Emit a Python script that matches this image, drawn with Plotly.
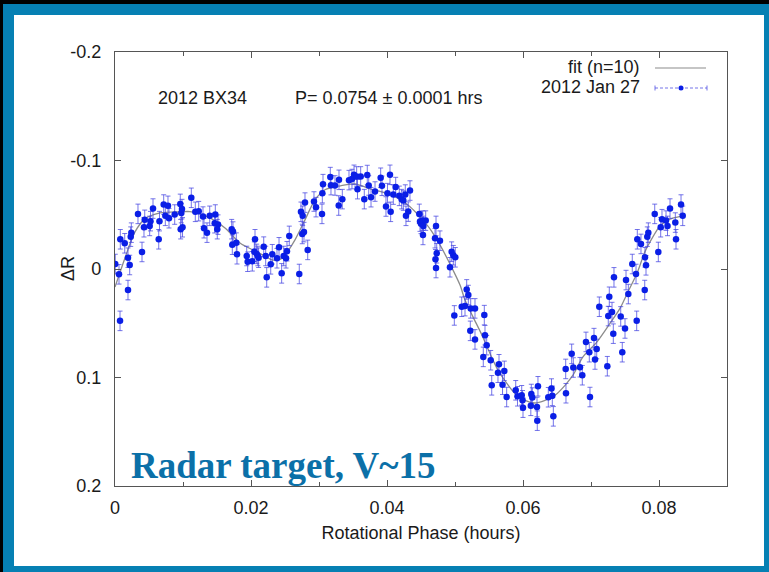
import plotly.graph_objects as go

# Rotational phase (hours) and R-band magnitude offset for 2012 BX34, 2012 Jan 27
PHASE_HRS = [
    0.00004, 0.00059, 0.00074, 0.00078, 0.00143, 0.00191, 0.00216, 0.00191, 0.00231, 0.00240,
    0.00338, 0.00397, 0.00437, 0.00426, 0.00510, 0.00522, 0.00559, 0.00643, 0.00654, 0.00716,
    0.00740, 0.00779, 0.00794, 0.00878, 0.00960, 0.00975, 0.00985, 0.00966, 0.00993, 0.01122,
    0.01181, 0.01231, 0.01294, 0.01309, 0.01353, 0.01393, 0.01475, 0.01466, 0.01515, 0.01504,
    0.01716, 0.01735, 0.01725, 0.01784, 0.01794, 0.01937, 0.01951, 0.02019, 0.02049, 0.02059,
    0.02084, 0.02100, 0.02112, 0.02187, 0.02231, 0.02216, 0.02290, 0.02313, 0.02382, 0.02412,
    0.02451, 0.02481, 0.02529, 0.02515, 0.02563, 0.02710, 0.02735, 0.02760, 0.02754, 0.02779,
    0.02794, 0.02834, 0.02926, 0.02956, 0.03049, 0.03059, 0.03044, 0.03166, 0.03176, 0.03235,
    0.03294, 0.03290, 0.03343, 0.03441, 0.03485, 0.03515, 0.03554, 0.03566, 0.03613, 0.03666,
    0.03710, 0.03731, 0.03765, 0.03824, 0.03907, 0.03926, 0.03985, 0.04007, 0.04044, 0.04054,
    0.04093, 0.04128, 0.04181, 0.04216, 0.04240, 0.04269, 0.04279, 0.04313, 0.04338, 0.04475,
    0.04485, 0.04500, 0.04525, 0.04534, 0.04569, 0.04529, 0.04721, 0.04706, 0.04779, 0.04731,
    0.04713, 0.04721, 0.04951, 0.04975, 0.05004, 0.04926, 0.05099, 0.04990, 0.05172, 0.05196,
    0.05147, 0.05231, 0.05294, 0.05431, 0.05225, 0.05294, 0.05441, 0.05466, 0.05416, 0.05525,
    0.05647, 0.05632, 0.05725, 0.05540, 0.05699, 0.05760, 0.05893, 0.05919, 0.05981, 0.05993,
    0.06000, 0.06122, 0.06137, 0.06115, 0.06220, 0.06206, 0.06210, 0.06372, 0.06419, 0.06431,
    0.06446, 0.06628, 0.06632, 0.06716, 0.06740, 0.06838, 0.06872, 0.06926, 0.06975, 0.06985,
    0.07044, 0.07059, 0.07084, 0.07122, 0.07240, 0.07254, 0.07269, 0.07309, 0.07328, 0.07338,
    0.07437, 0.07460, 0.07500, 0.07515, 0.07549, 0.07607, 0.07662, 0.07672, 0.07681, 0.07735,
    0.07790, 0.07794, 0.07809, 0.07828, 0.07843, 0.07937, 0.07990, 0.08025, 0.08044, 0.08103,
    0.08125, 0.08162, 0.08240, 0.08250, 0.08324, 0.08349,
]
DELTA_R = [
    -0.0046, 0.0049, 0.0478, -0.0274, -0.0237, -0.0104, -0.0037, 0.0194, -0.0298, -0.0335,
    -0.0508, -0.0157, -0.0453, -0.0385, -0.0397, -0.0441, -0.0557, -0.0274, -0.0441, -0.0594,
    -0.0490, -0.0582, -0.0468, -0.0502, -0.0600, -0.0515, -0.0552, -0.0367, -0.0385, -0.0656,
    -0.0527, -0.0533, -0.0483, -0.0376, -0.0335, -0.0490, -0.0502, -0.0422, -0.0409, -0.0367,
    -0.0367, -0.0345, -0.0224, -0.0243, -0.0136, -0.0120, -0.0067, -0.0071, -0.0160, -0.0274,
    -0.0139, -0.0120, -0.0104, -0.0206, 0.0077, -0.0120, -0.0043, -0.0136, -0.0099, -0.0200,
    0.0040, -0.0120, -0.0164, -0.0099, -0.0305, 0.0046, -0.0527, -0.0490, -0.0323, -0.0340,
    -0.0612, -0.0176, -0.0622, -0.0570, -0.0699, -0.0782, -0.0508, -0.0847, -0.0773, -0.0770,
    -0.0822, -0.0585, -0.0644, -0.0819, -0.0829, -0.0868, -0.0853, -0.0736, -0.0853, -0.0644,
    -0.0866, -0.0770, -0.0662, -0.0714, -0.0841, -0.0767, -0.0576, -0.0699, -0.0868, -0.0527,
    -0.0686, -0.0755, -0.0674, -0.0644, -0.0631, -0.0686, -0.0490, -0.0529, -0.0723, -0.0508,
    -0.0437, -0.0416, -0.0446, -0.0397, -0.0446, -0.0314, -0.0397, -0.0284, -0.0261, -0.0145,
    -0.0090, -0.0009, -0.0160, -0.0127, -0.0108, -0.0016, 0.0348, 0.0428, 0.0188, 0.0240,
    0.0342, 0.0363, 0.0363, 0.0425, 0.0570, 0.0649, 0.0610, 0.0702, 0.0810, 0.0841,
    0.0878, 0.0956, 0.0939, 0.1072, 0.1067, 0.1180, 0.1118, 0.1173, 0.1164, 0.1210,
    0.1278, 0.1152, 0.1185, 0.1261, 0.1081, 0.1272, 0.1398, 0.1182, 0.1102, 0.1169,
    0.1358, 0.0921, 0.1145, 0.0782, 0.0908, 0.0905, 0.0979, 0.0672, 0.0767, 0.1180,
    0.0637, 0.0834, 0.0737, 0.0348, 0.0896, 0.0434, 0.0256, 0.0397, 0.0596, 0.0077,
    0.0437, 0.0767, 0.0548, 0.0102, 0.0231, -0.0046, 0.0046, 0.0478, -0.0274, -0.0231,
    0.0194, -0.0108, -0.0034, -0.0298, -0.0335, -0.0508, -0.0157, -0.0385, -0.0459, -0.0446,
    -0.0397, -0.0557, -0.0428, -0.0274, -0.0594, -0.0490,
]
DELTA_R_ERR = 0.009

# Fourier fit (n=10), sampled along the phase axis
FIT_PHASE = [
    0.0, 0.00147, 0.00294, 0.00441, 0.00662, 0.00956, 0.01103, 0.0125, 0.01397, 0.01618,
    0.01838, 0.02059, 0.02206, 0.02309, 0.02426, 0.025, 0.02647, 0.02794, 0.02941, 0.03088,
    0.03309, 0.03529, 0.0375, 0.03971, 0.04191, 0.04338, 0.04485, 0.04632, 0.04779, 0.04926,
    0.05074, 0.05147, 0.05265, 0.05397, 0.05515, 0.05632, 0.05765, 0.05882, 0.06029, 0.06176,
    0.06324, 0.06471, 0.06618, 0.06735, 0.06882, 0.07088, 0.07279, 0.07426, 0.07544, 0.07676,
    0.07794, 0.07912, 0.08015, 0.08162, 0.08309, 0.08382,
]
FIT_DR = [
    0.0166, -0.0102, -0.0342, -0.0462, -0.0517, -0.0527, -0.0529, -0.0508, -0.0471, -0.0379,
    -0.0240, -0.0166, -0.0120, -0.0083, -0.0088, -0.0129, -0.0268, -0.0453, -0.0637, -0.0730,
    -0.0767, -0.0785, -0.0739, -0.0702, -0.0642, -0.0573, -0.0480, -0.0370, -0.0222, -0.0046,
    0.0148, 0.0286, 0.0441, 0.0610, 0.0779, 0.0933, 0.1056, 0.1148, 0.1210, 0.1235,
    0.1210, 0.1164, 0.1072, 0.0979, 0.0810, 0.0672, 0.0502, 0.0363, 0.0210, 0.0040,
    -0.0160, -0.0298, -0.0397, -0.0459, -0.0483, -0.0490,
]

X_TICKS = [0, 0.02, 0.04, 0.06, 0.08]
X_TICK_TEXT = ["0", "0.02", "0.04", "0.06", "0.08"]
X_MINOR_TICKS = [0.01, 0.03, 0.05, 0.07]
Y_TICKS = [-0.2, -0.1, 0, 0.1, 0.2]
Y_TICK_TEXT = ["-0.2", "-0.1", "0", "0.1", "0.2"]

W, H = 769, 572
ML, MR, MT, MB = 115, 42, 52, 86
PW, PH = W - ML - MR, H - MT - MB


def px(xp):
    return (xp - ML) / PW


def py(yp):
    return (H - MB - yp) / PH


FONT = "Liberation Sans, Arial, Helvetica, sans-serif"
FS = 18
INK = "#1a1a1a"
AXIS = "#555555"
FRAME_BLUE = "#0680b3"
POINT_BLUE = "#0a1ee6"
BAR_BLUE = "rgba(70,70,225,0.75)"

fig = go.Figure()

fig.add_trace(go.Scatter(
    x=FIT_PHASE, y=FIT_DR, mode="lines",
    line=dict(color="#8c8c8c", width=1.3, shape="spline", smoothing=0.8),
    name="fit (n=10)", showlegend=False, hoverinfo="skip",
))
fig.add_trace(go.Scatter(
    x=PHASE_HRS, y=DELTA_R, mode="markers",
    marker=dict(color=POINT_BLUE, size=6.5),
    error_y=dict(type="constant", value=DELTA_R_ERR, color=BAR_BLUE, thickness=1, width=2.5),
    name="2012 Jan 27", showlegend=False,
))

axis_common = dict(
    showline=True, linecolor=AXIS, linewidth=1.3, mirror="allticks",
    ticks="inside", tickcolor=AXIS, tickwidth=1.2, ticklen=6,
    showgrid=False, zeroline=False,
    tickfont=dict(family=FONT, size=FS, color=INK),
)

fig.update_xaxes(
    range=[0, 0.09], tickvals=X_TICKS, ticktext=X_TICK_TEXT,
    minor=dict(tickvals=X_MINOR_TICKS, ticks="inside", ticklen=4, tickcolor=AXIS, tickwidth=1.2),
    ticklabelstandoff=5,
    title=dict(text="Rotational Phase (hours)", font=dict(family=FONT, size=FS, color=INK), standoff=9),
    **axis_common,
)
fig.update_yaxes(
    range=[0.2, -0.2], tickvals=Y_TICKS, ticktext=Y_TICK_TEXT,
    ticklabelstandoff=9,
    **axis_common,
)

# Slide frame: black surround, blue border, white card
shapes = [
    dict(type="rect", xref="paper", yref="paper", layer="below",
         x0=px(3), x1=px(W + 10), y0=py(H + 10), y1=py(4),
         fillcolor=FRAME_BLUE, line=dict(width=0)),
    dict(type="rect", xref="paper", yref="paper", layer="below",
         x0=px(14), x1=px(764), y0=py(566), y1=py(15),
         fillcolor="white", line=dict(width=0)),
]

# Key samples: fit line, and dashed error-bar style with point
key_y1, key_y2 = py(68), py(88)
shapes += [
    dict(type="line", xref="paper", yref="paper", x0=px(655), x1=px(706), y0=key_y1, y1=key_y1,
         line=dict(color="#8c8c8c", width=1.2)),
    dict(type="line", xref="paper", yref="paper", x0=px(655), x1=px(707), y0=key_y2, y1=key_y2,
         line=dict(color=BAR_BLUE, width=1, dash="3px,2px")),
    dict(type="line", xref="paper", yref="paper", x0=px(655), x1=px(655), y0=py(85.5), y1=py(90.5),
         line=dict(color=BAR_BLUE, width=1)),
    dict(type="line", xref="paper", yref="paper", x0=px(707), x1=px(707), y0=py(85.5), y1=py(90.5),
         line=dict(color=BAR_BLUE, width=1)),
    dict(type="circle", xref="paper", yref="paper", x0=px(678.5), x1=px(683.5), y0=py(85.5), y1=py(90.5),
         fillcolor=POINT_BLUE, line=dict(width=0)),
]


def label(text, x, y, xanchor="center", **kw):
    return dict(text=text, x=px(x), y=py(y), xref="paper", yref="paper",
                xanchor=xanchor, yanchor="middle", showarrow=False,
                font=dict(family=FONT, size=FS, color=INK), **kw)


annotations = [
    label("2012 BX34", 202, 98),
    label("P= 0.0754 ± 0.0001 hrs", 293, 98, xanchor="left"),
    label("fit (n=10)", 642, 67, xanchor="right"),
    label("2012 Jan 27", 642, 87, xanchor="right"),
    label("ΔR", 68, 269, textangle=-90),
    dict(text="<b>Radar target, V~15</b>", x=px(129), y=py(465), xref="paper", yref="paper",
         xanchor="left", yanchor="middle", showarrow=False,
         font=dict(family="Liberation Serif, Times New Roman, serif", size=37, color="#0b70a8")),
]

fig.update_layout(
    width=W, height=H,
    margin=dict(l=ML, r=MR, t=MT, b=MB),
    paper_bgcolor="black", plot_bgcolor="white",
    showlegend=False,
    shapes=shapes, annotations=annotations,
)

fig.write_html("out.html")
